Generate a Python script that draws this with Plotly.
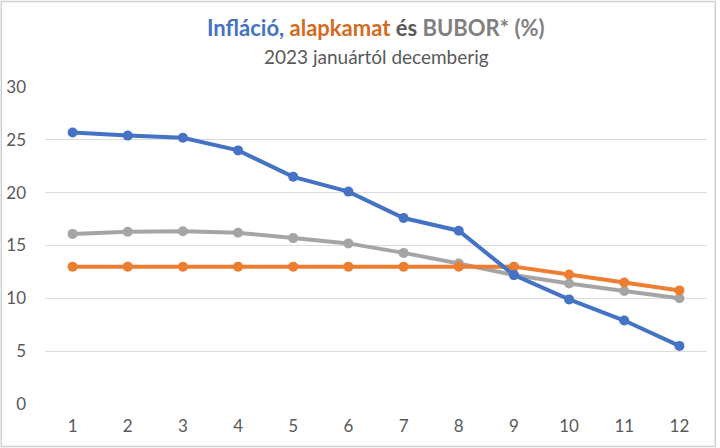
import plotly.graph_objects as go

honapok = list(range(1, 13))
inflacio = [25.7, 25.4, 25.2, 24.0, 21.5, 20.1, 17.6, 16.4, 12.2, 9.9, 7.9, 5.5]
alapkamat = [13, 13, 13, 13, 13, 13, 13, 13, 13, 12.25, 11.5, 10.75]
bubor = [16.1, 16.3, 16.35, 16.2, 15.7, 15.2, 14.3, 13.3, 12.2, 11.4, 10.7, 10.0]

sorozatok = [
    ("Infláció", inflacio, "#4472C4"),
    ("Alapkamat", alapkamat, "#ED7D31"),
    ("BUBOR", bubor, "#A5A5A5"),
]

fig = go.Figure()
# grey first, so blue and orange sit on top like in the original
for nev, ertekek, szin in [sorozatok[2], sorozatok[1], sorozatok[0]]:
    fig.add_trace(go.Scatter(
        x=honapok, y=ertekek, name=nev, mode="lines+markers",
        line=dict(color=szin, width=4), marker=dict(color=szin, size=10),
    ))

title_text = (
    "<b><span style='color:#4472C4'>Infláció,</span>"
    "<span style='color:#D46A22'> alapkamat</span>"
    "<span style='color:#595959'> és </span>"
    "<span style='color:#808080'>BUBOR* (%)</span></b>"
)

fig.update_layout(
    width=720, height=448,
    paper_bgcolor="white", plot_bgcolor="white",
    showlegend=False,
    margin=dict(l=45, r=13, t=87, b=44, autoexpand=False),
    font=dict(family="Lato", size=17, color="#595959"),
    xaxis=dict(range=[0.5, 12.5], tickvals=honapok, showgrid=False, showline=False,
               zeroline=False, ticks="", tickfont=dict(size=17, color="#595959"),
               ticklabelstandoff=10),
    yaxis=dict(range=[0, 30], dtick=5, showgrid=True, gridcolor="#DCDCDC",
               gridwidth=1, zeroline=False, showline=False, ticks="",
               tickfont=dict(size=17, color="#595959"), ticklabelstandoff=18),
    annotations=[
        dict(text=title_text, x=0.5, y=1, xref="paper", yref="paper", yshift=60,
             xanchor="center", yanchor="middle", showarrow=False,
             font=dict(family="Lato", size=22)),
        dict(text="2023 januártól decemberig", x=0.5, y=1, xref="paper", yref="paper",
             yshift=31, xanchor="center", yanchor="middle", showarrow=False,
             font=dict(family="Lato", size=19, color="#595959")),
    ],
    shapes=[dict(type="rect", xref="paper", yref="paper", x0=-0.066, x1=1.0125,
                 y0=-0.134, y1=1.27, layer="above", line=dict(color="#D0D0D0", width=1.5))],
)

fig.write_html("out.html", config={"displayModeBar": False},
               post_script="document.body.style.margin='0';")
